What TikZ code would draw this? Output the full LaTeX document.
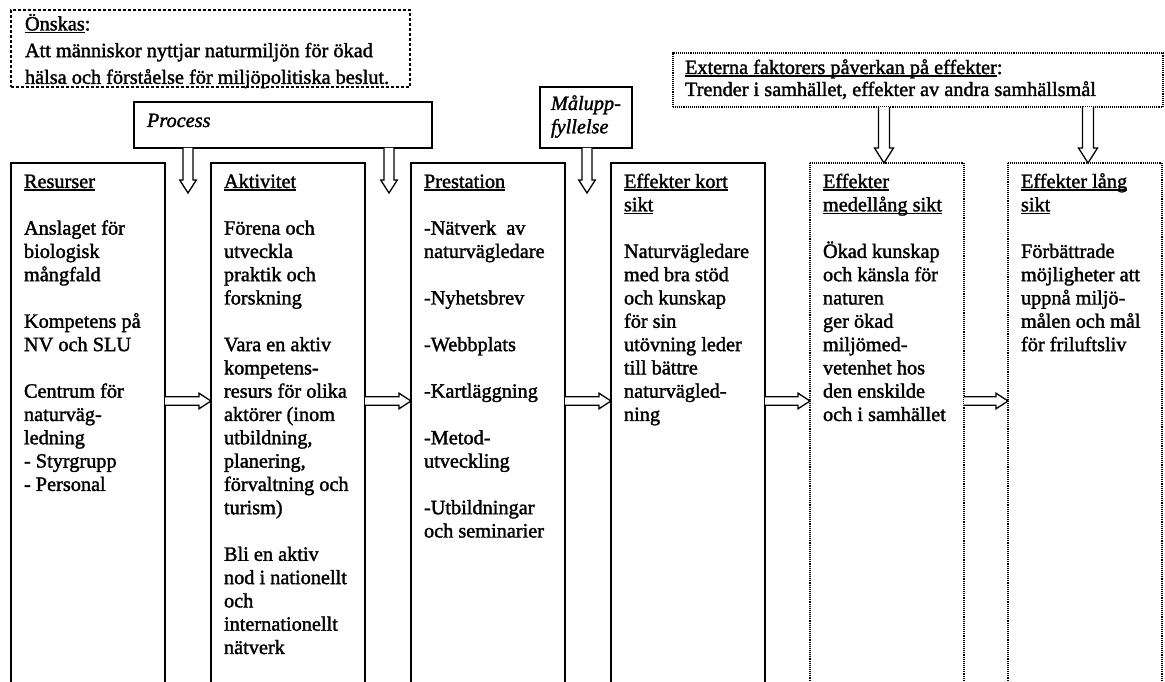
\documentclass[tikz,border=0pt]{standalone}
\usepackage{fontspec}
\setmainfont{Liberation Serif}[FakeBold=1.6]
\usetikzlibrary{calc}
\newlength{\ulwd}
\newcommand{\ulx}[1]{\leavevmode\settowidth{\ulwd}{#1}\rlap{\rule[-2.6pt]{\ulwd}{1.3pt}}#1}
\newcommand{\gapl}{\\[23.3pt]}
\newcommand{\fl}{\rule{0pt}{15pt}}
\newcommand{\harr}[2]{%
 \draw[blockarr]
 ($(#1.north east)+(0,233.7)$) -- ($(#2.north west)+(-12,233.7)$) --
 ($(#2.north west)+(-12,230.2)$) -- ($(#2.north west)+(0,238)$) --
 ($(#2.north west)+(-12,245.8)$) -- ($(#2.north west)+(-12,242.3)$) --
 ($(#1.north east)+(0,242.3)$);}
\newcommand{\varr}[5]{%
 \draw[blockarr] ($(#1)+(-#3,0)$) -- ($(#2)+(-#3,-#5)$) -- ($(#2)+(-#4,-#5)$) --
 (#2) -- ($(#2)+(#4,-#5)$) -- ($(#2)+(#3,-#5)$) -- ($(#1)+(#3,0)$);}
\tikzset{
 txt/.style={font=\fontsize{20.3}{23.3}\selectfont},
 colbox/.style={txt, draw, line width=1.8pt, anchor=north west, inner xsep=13pt,
   inner ysep=10pt, outer sep=0pt},
 dotbox/.style={colbox, line width=1.3pt, dash pattern=on 1pt off 0.9pt},
 blockarr/.style={draw, line width=1.3pt, fill=white, line join=miter},
}
\begin{document}
\begin{tikzpicture}[x=1pt,y=-1pt]
\useasboundingbox (0,0) rectangle (1165,682);
\fill[white] (0,0) rectangle (1165,682);

% top boxes
\node[txt, draw, line width=1.5pt, dash pattern=on 3pt off 2pt, anchor=north west,
  inner xsep=14pt, inner ysep=4pt, outer sep=0pt] (onskas) at (11,10)
 {\parbox[t][69pt][t]{371pt}{\raggedright\fontsize{20.3}{26.7}\selectfont
  \rule{0pt}{14pt}\ulx{Önskas}:\\
  Att människor nyttjar naturmiljön för ökad\\
  hälsa och förståelse för miljöpolitiska beslut.}};

\node[txt, draw, line width=1.8pt, anchor=north west, inner xsep=13pt,
  inner ysep=8pt, outer sep=0pt] (proc) at (134,102)
 {\parbox[t][30pt][t]{272pt}{\raggedright\rule{0pt}{17pt}\textit{Process}}};

\node[txt, draw, line width=1.5pt, anchor=north west, inner xsep=11pt,
  inner ysep=6pt, outer sep=0pt] (mal) at (540,87)
 {\parbox[t][49pt][t]{70pt}{\raggedright\rule{0pt}{17pt}\textit{Målupp-}\\\textit{fyllelse}}};

\node[txt, draw, line width=1.3pt, dash pattern=on 1pt off 0.9pt, anchor=north west,
  inner xsep=12pt, inner ysep=4pt, outer sep=0pt] (ext) at (673,53)
 {\parbox[t][46pt][t]{466pt}{\raggedright\fontsize{20.3}{22}\selectfont
  \rule{0pt}{17pt}\ulx{Externa faktorers påverkan på effekter}:\\
  Trender i samhället, effekter av andra samhällsmål}};

% columns
\node[colbox] (res) at (11,163)
 {\parbox[t][517pt][t]{128pt}{\raggedright\fl\ulx{Resurser}\gapl
  Anslaget för\\ biologisk\\ mångfald\gapl
  Kompetens på\\ NV och SLU\gapl
  Centrum för\\ naturväg-\\ ledning\\ - Styrgrupp\\ - Personal}};

\node[colbox] (akt) at (211,163)
 {\parbox[t][517pt][t]{128pt}{\raggedright\fl\ulx{Aktivitet}\gapl
  Förena och\\ utveckla\\ praktik och\\ forskning\gapl
  Vara en aktiv\\ kompetens-\\ resurs för olika\\ aktörer (inom\\ utbildning,\\ planering,\\ förvaltning och\\ turism)\gapl
  Bli en aktiv\\ nod i nationellt\\ och\\ internationellt\\ nätverk}};

\node[colbox] (pre) at (411,163)
 {\parbox[t][517pt][t]{128pt}{\raggedright\fl\ulx{Prestation}\gapl
  -Nätverk~ av\\ naturvägledare\gapl
  -Nyhetsbrev\gapl
  -Webbplats\gapl
  -Kartläggning\gapl
  -Metod-\\ utveckling\gapl
  -Utbildningar\\ och seminarier}};

\node[colbox] (kort) at (611,163)
 {\parbox[t][517pt][t]{128pt}{\raggedright\fl\ulx{Effekter kort}\\ \ulx{sikt}\gapl
  Naturvägledare\\ med bra stöd\\ och kunskap\\ för sin\\ utövning leder\\ till bättre\\ naturvägled-\\ ning}};

\node[dotbox] (medel) at (810,163)
 {\parbox[t][517pt][t]{128pt}{\raggedright\fl\ulx{Effekter}\\ \ulx{medellång sikt}\gapl
  Ökad kunskap\\ och känsla för\\ naturen\\ ger ökad\\ miljömed-\\ vetenhet hos\\ den enskilde\\ och i samhället}};

\node[dotbox] (lang) at (1008,163)
 {\parbox[t][517pt][t]{128pt}{\raggedright\fl\ulx{Effekter lång}\\ \ulx{sikt}\gapl
  Förbättrade\\ möjligheter att\\ uppnå miljö-\\ målen och mål\\ för friluftsliv}};

% horizontal block arrows
\harr{res}{akt}
\harr{akt}{pre}
\harr{pre}{kort}
\harr{kort}{medel}
\harr{medel}{lang}

% vertical block arrows
\coordinate (p1) at (188,193);
\coordinate (p2) at (389,193);
\coordinate (m1) at (587,193);
\coordinate (e1) at (884,163);
\coordinate (e2) at (1088,163);
\coordinate (p1s) at (p1 |- proc.south);
\coordinate (p2s) at (p2 |- proc.south);
\coordinate (m1s) at (m1 |- mal.south);
\coordinate (e1s) at (e1 |- ext.south);
\coordinate (e2s) at (e2 |- ext.south);
\varr{p1s}{p1}{5}{8.3}{13}
\varr{p2s}{p2}{5}{8.3}{13}
\varr{m1s}{m1}{5}{8.3}{13}
\varr{e1s}{e1}{5.5}{9.5}{15}
\varr{e2s}{e2}{5.5}{9.5}{15}
\end{tikzpicture}
\end{document}
